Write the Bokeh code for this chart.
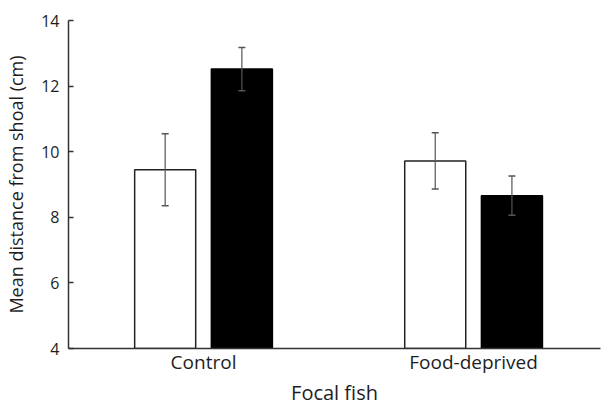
from bokeh.plotting import figure
from bokeh.models import ColumnDataSource, Range1d, FixedTicker, Whisker, TeeHead
from bokeh.transform import dodge
from bokeh.embed import file_html
from bokeh.resources import INLINE

categories = ["Control", "Food-deprived"]
white_means = [9.45, 9.72]
white_err = [1.10, 0.86]
black_means = [12.52, 8.66]
black_err = [0.66, 0.60]
y_ticks = [4, 6, 8, 10, 12, 14]

pos = [i + 0.5 for i in range(len(categories))]
src = ColumnDataSource(dict(
    pos=pos,
    wm=white_means, wu=[m + e for m, e in zip(white_means, white_err)],
    wl=[m - e for m, e in zip(white_means, white_err)],
    bm=black_means, bu=[m + e for m, e in zip(black_means, black_err)],
    bl=[m - e for m, e in zip(black_means, black_err)],
))

FONT = "Open Sans"
TXT = "#1e1e1e"

p = figure(width=601, height=408, output_backend="svg", toolbar_location=None,
           x_range=Range1d(0, 1.97), y_range=Range1d(4, 14),
           min_border_left=68, min_border_right=1, min_border_top=20, min_border_bottom=60)
p.grid.visible = False
p.outline_line_color = None
p.background_fill_color = "white"
p.border_fill_color = "white"

bw = 0.226
off = 0.142
p.vbar(x=dodge("pos", -off, range=p.x_range), top="wm", bottom=4, width=bw, source=src,
       fill_color="white", line_color="#222222", line_width=1.5)
p.vbar(x=dodge("pos", off, range=p.x_range), top="bm", bottom=4, width=bw, source=src,
       fill_color="black", line_color="black", line_width=1.5)

for key, o in (("w", -off), ("b", off)):
    wh = Whisker(source=src, base=dodge("pos", o, range=p.x_range), upper=key + "u", lower=key + "l",
                 line_color="#555555", line_width=1.2, level="overlay",
                 upper_head=TeeHead(size=7, line_color="#555555", line_width=1.5),
                 lower_head=TeeHead(size=7, line_color="#555555", line_width=1.5))
    p.add_layout(wh)

# axes
p.xaxis.ticker = FixedTicker(ticks=pos)
p.xaxis.major_label_overrides = {v: c for v, c in zip(pos, categories)}
p.xaxis.major_tick_line_color = None
p.xaxis.major_tick_out = 0
p.xaxis.major_tick_in = 0
p.xaxis.minor_tick_line_color = None
p.xaxis.axis_label = "Focal fish"
p.xaxis.major_label_standoff = 0
p.xaxis.axis_label_standoff = 1

p.yaxis.ticker = FixedTicker(ticks=y_ticks)
p.yaxis.major_tick_in = 5
p.yaxis.major_tick_out = 0
p.yaxis.minor_tick_line_color = None
p.yaxis.axis_label = "Mean distance from shoal (cm)"
p.yaxis.major_label_standoff = 9
p.yaxis.axis_label_standoff = 10
p.yaxis.major_tick_line_color = "#333333"
p.yaxis.major_tick_line_width = 1.5

for ax in (p.xaxis[0], p.yaxis[0]):
    ax.axis_line_color = "#333333"
    ax.axis_line_width = 1.5
    ax.major_label_text_font = FONT
    ax.axis_label_text_font = FONT
    ax.major_label_text_color = TXT
    ax.axis_label_text_color = TXT
    ax.axis_label_text_font_style = "normal"

p.xaxis.major_label_text_font_size = "19px"
p.xaxis.axis_label_text_font_size = "20px"
p.yaxis.major_label_text_font_size = "16px"
p.yaxis.axis_label_text_font_size = "18px"

open("out.html", "w").write(file_html(p, INLINE))
